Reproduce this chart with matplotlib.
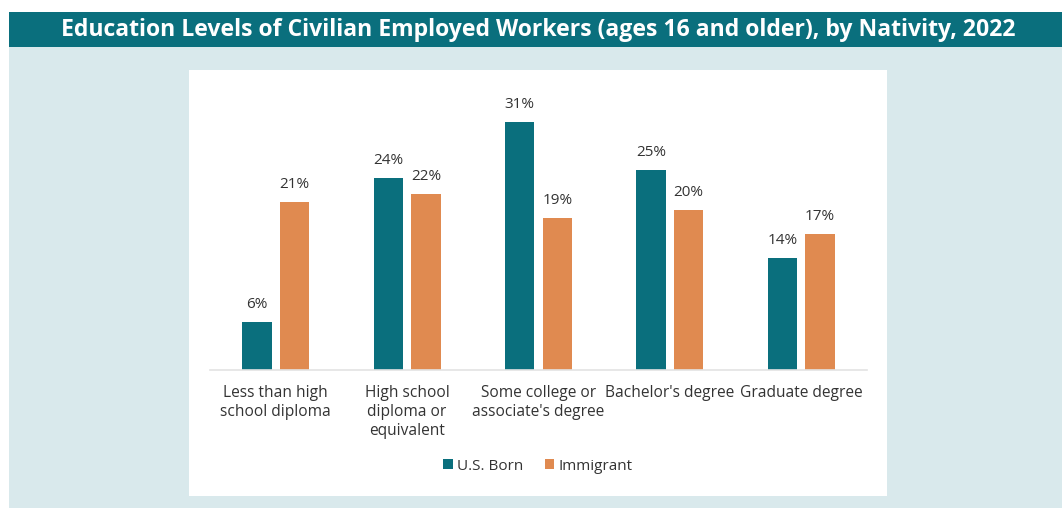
import numpy as np
import matplotlib.pyplot as plt
from matplotlib.patches import Rectangle

categories = ["Less than high\nschool diploma", "High school\ndiploma or\nequivalent",
              "Some college or\nassociate's degree", "Bachelor's degree", "Graduate degree"]
us_born = [6, 24, 31, 25, 14]
immigrant = [21, 22, 19, 20, 17]
series_names = ["U.S. Born", "Immigrant"]

teal = "#0a6f7d"
orange = "#e08a50"
bg_blue = "#d9e9ec"
text_col = "#333333"

plt.rcParams['font.family'] = ['Open Sans', 'DejaVu Sans']

W, H = 1062, 508
fig = plt.figure(figsize=(W / 100, H / 100), dpi=100)
fig.patch.set_facecolor("white")

# background pieces (pixel coords -> figure fraction)
def px_rect(x0, y0, x1, y1, color):
    fig.patches.append(Rectangle((x0 / W, 1 - y1 / H), (x1 - x0) / W, (y1 - y0) / H,
                                 transform=fig.transFigure, facecolor=color,
                                 edgecolor="none", zorder=-5))

px_rect(9, 47, W, H, bg_blue)
px_rect(9, 12, W, 47, teal)
px_rect(189, 70, 887, 496, "white")

fig.text(538 / W, 1 - 30 / H,
         "Education Levels of Civilian Employed Workers (ages 16 and older), by Nativity, 2022",
         color="white", fontsize=16.6, fontweight="bold", ha="center", va="center")

ax = fig.add_axes([210 / W, (H - 370) / H, 657 / W, 280 / H])
ax.set_facecolor("none")
x = np.arange(len(categories))
bw = 0.225
off = 0.143
b1 = ax.bar(x - off, us_born, bw, color=teal, label=series_names[0], zorder=2)
b2 = ax.bar(x + off, immigrant, bw, color=orange, label=series_names[1], zorder=2)
for bars in (b1, b2):
    for r in bars:
        ax.annotate(f"{r.get_height():.0f}%", (r.get_x() + r.get_width() / 2, r.get_height()),
                    xytext=(0, 7), textcoords="offset points", ha="center", va="bottom",
                    fontsize=11, color=text_col)

ax.set_xlim(-0.5, 4.5)
ax.set_ylim(0, 35)
ax.set_yticks([])
ax.set_xticks(x)
ax.set_xticklabels(categories, fontsize=11.2, color=text_col, linespacing=1.22)
ax.tick_params(axis="x", length=0, pad=11)
for s in ["top", "left", "right"]:
    ax.spines[s].set_visible(False)
ax.spines["bottom"].set_color("#e3e3e3")
ax.spines["bottom"].set_linewidth(1.2)

fig.legend(loc="center", bbox_to_anchor=(538 / W, 1 - 466 / H), ncol=2, frameon=False,
           handlelength=0.6, handleheight=0.6, handletextpad=0.3, columnspacing=1.4,
           fontsize=11, labelcolor=text_col)

fig.savefig("out.png", dpi=100)
